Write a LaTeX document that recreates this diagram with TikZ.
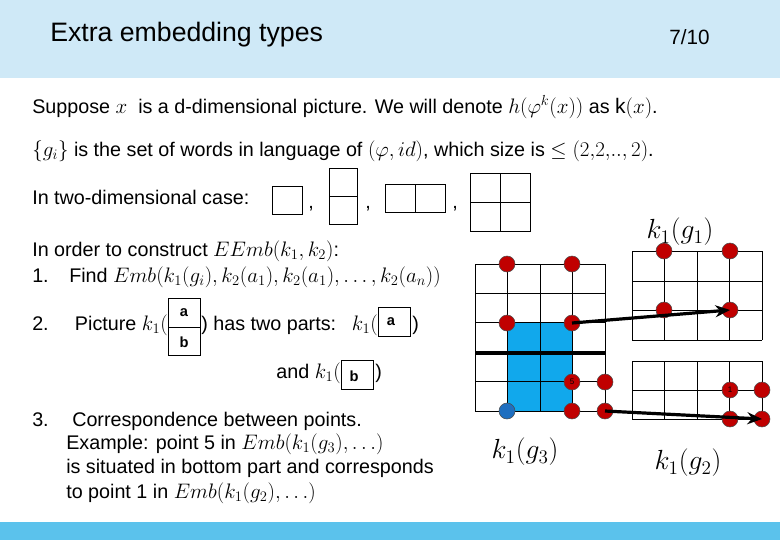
\documentclass[tikz,border=0pt]{standalone}
\usepackage{fontspec}
\setmainfont{Liberation Sans}
\DeclareMathSizes{14.8}{17.3}{12}{9}
\newcommand{\mm}[1]{\scalebox{0.91}{$#1$}}
\usetikzlibrary{arrows.meta}
\definecolor{hdr}{HTML}{CFE9F7}
\definecolor{barb}{HTML}{5BC2EC}
\definecolor{dotred}{HTML}{C00000}
\definecolor{dotblue}{HTML}{1F6FC0}
\definecolor{fillb}{HTML}{11A8EC}
\tikzset{
 txt/.style={anchor=base west,inner sep=0pt,font=\fontsize{14.8}{17}\selectfont},
 lbl/.style={inner sep=0pt,font=\fontsize{20}{24}\selectfont},
 rd/.style={circle,fill=dotred,draw=black!70,line width=0.4pt,minimum size=12pt,inner sep=0pt,font=\fontsize{6}{6}\selectfont},
 bl/.style={circle,fill=dotblue,draw=black!70,line width=0.4pt,minimum size=12pt,inner sep=0pt},
 cell/.style={draw,line width=0.6pt},
 arr/.style={line width=2.4pt,-{Stealth[length=11pt,width=9pt]}},
 lt/.style={inner sep=0pt,font=\bfseries\fontsize{11}{12}\selectfont}
}
\begin{document}
\begin{tikzpicture}[x=0.75pt,y=-0.75pt]
\useasboundingbox (0,0) rectangle (780,540);
\fill[white] (0,0) rectangle (780,540);
\fill[hdr] (0,0) rectangle (780,78);
\fill[barb] (0,522) rectangle (780,540);
\node[anchor=base west,inner sep=0pt,font=\fontsize{20}{24}\selectfont] (title) at (50,41) {Extra embedding types};
\node[anchor=base west,inner sep=0pt,font=\fontsize{15.5}{18}\selectfont] (pg) at (669,44) {7/10};

\node[txt] (l1) at (32,113) {Suppose \mm{x} \ is a d-dimensional picture. We will denote \mm{h\bigl(\varphi^k(x)\bigr)} as \mm{\mathrm{k}(x)}.};
\node[txt] (l2) at (32,156) {\mm{\{g_i\}} is the set of words in language of \mm{(\varphi,id)}, which size is \mm{\le(2{,}2{,}..,2)}.};
\node[txt] (l3) at (32,204) {In two-dimensional case:};
\draw[cell] (272,186) rectangle (302,214);
\node[txt] (c1) at (308,208) {,};
\draw[cell] (329,168) rectangle (357,224); \draw[cell] (329,196)--(357,196);
\node[txt] (c2) at (365,208) {,};
\draw[cell] (385,184) rectangle (445,212); \draw[cell] (415,184)--(415,212);
\node[txt] (c3) at (452,208) {,};
\draw[cell] (470,173) rectangle (530,231); \draw[cell] (500,173)--(500,231); \draw[cell] (470,202)--(530,202);

\node[txt] (l4) at (32,256) {In order to construct \mm{EEmb(k_1,k_2)}:};
\node[txt] (n1) at (32,282) {1.};
\node[txt] (l5) at (69,282) {Find \mm{Emb(k_1(g_i),k_2(a_1),k_2(a_1),\dots,k_2(a_n))}};
\node[txt] (n2) at (32,330) {2.};
\node[txt,anchor=base east] (l6) at (168,330) {Picture \mm{k_1(}};
\draw[cell] (168,298) rectangle (200,355); \draw[cell] (168,327)--(200,327);
\node[lt] (ta) at (184,313) {a};
\node[lt] (tb) at (184,342) {b};
\node[txt] (l7) at (201,330) {) has two parts:};
\node[txt,anchor=base east] (l7b) at (378,330) {\mm{k_1(}};
\draw[cell] (378,307) rectangle (410,336);
\node[lt] (ta2) at (391,322) {a};
\node[txt] (l8) at (412,330) {)};
\node[txt,anchor=base east] (l9) at (341,378) {and \mm{k_1(}};
\draw[cell] (341,360) rectangle (373,389);
\node[lt] (tb2) at (354,376) {b};
\node[txt] (l10) at (375,378) {)};
\node[txt] (n3) at (32,426) {3.};
\node[txt] (l11) at (72,426) {Correspondence between points.};
\node[txt] (l12) at (66,449) {Example: point 5 in \mm{Emb(k_1(g_3),\dots)}};
\node[txt] (l13) at (66,473) {is situated in bottom part and corresponds};
\node[txt] (l14) at (66,498) {to point 1 in \mm{Emb(k_1(g_2),\dots)}};

% left grid
\fill[fillb] (507,323) rectangle (572,411);
\foreach \x in {475,507.5,540,572.5,605} \draw[cell] (\x,264)--(\x,411);
\foreach \y in {264,293.4,322.8,352.2,381.6,411} \draw[cell] (475,\y)--(605,\y);
\draw[line width=3pt] (475,353)--(605,353);
% top right grid
\foreach \x in {632,664.5,697,729.5,762} \draw[cell] (\x,251)--(\x,340);
\foreach \y in {251,281,310,340} \draw[cell] (632,\y)--(762,\y);
% bottom right grid
\foreach \x in {632,664.5,697,729.5,762} \draw[cell] (\x,361)--(\x,419);
\foreach \y in {361,390,419} \draw[cell] (632,\y)--(762,\y);

\node[rd] (a1) at (507,264) {};
\node[rd] (a2) at (572,264) {};
\node[rd] (a3) at (507,323) {};
\node[rd] (a4) at (572,323) {};
\node[rd] (a5) at (572,382) {5};
\node[rd] (a6) at (605,382) {};
\node[bl] (a7) at (507,411) {};
\node[rd] (a8) at (572,411) {};
\node[rd] (a9) at (605,411) {};
\node[rd] (b1) at (664,251) {};
\node[rd] (b2) at (730,251) {};
\node[rd] (b3) at (664,310) {};
\node[rd] (b4) at (730,310) {};
\node[rd] (c1d) at (730,390) {1};
\node[rd] (c2d) at (762,390) {};
\node[rd] (c3d) at (730,419) {};
\node[rd] (c4d) at (762,419) {};
\draw[arr] (a4.center) -- (b4.center);
\draw[arr] (a9.center) -- (c4d.center);

\node[lbl] (g1) at (680,232) {$k_1(g_1)$};
\node[lbl] (g3) at (525,452) {$k_1(g_3)$};
\node[lbl] (g2) at (688,463) {$k_1(g_2)$};
\end{tikzpicture}
\end{document}
